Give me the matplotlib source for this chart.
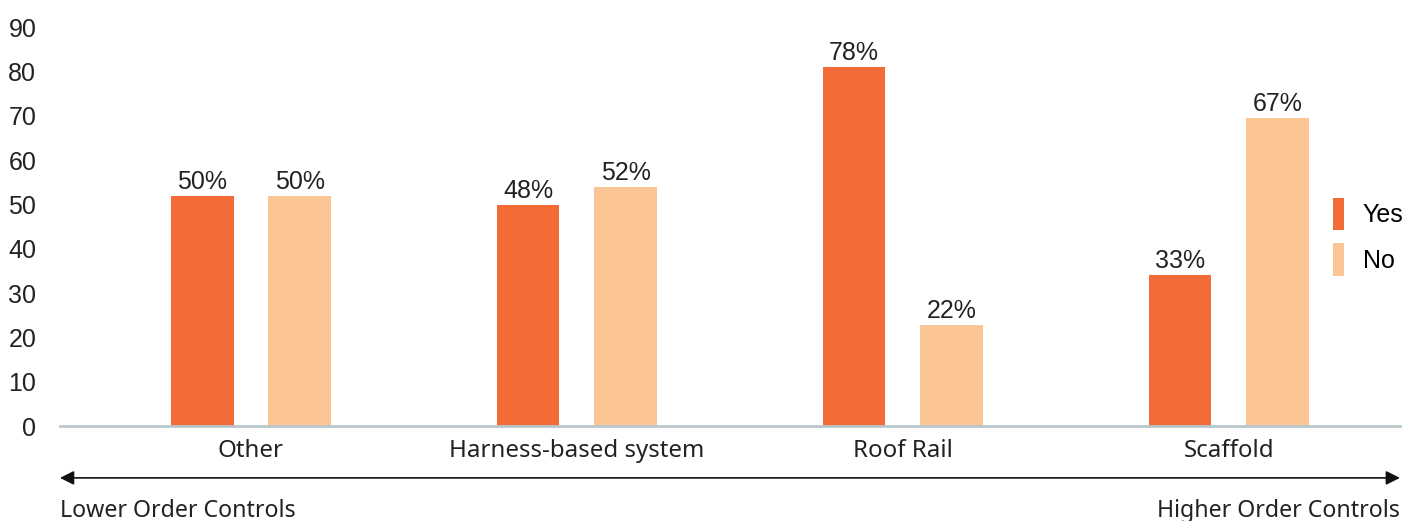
import numpy as np
import matplotlib.pyplot as plt

# 数据
categories = ['Other', 'Harness-based system', 'Roof Rail', 'Scaffold']
yes_height = [51.9, 49.9, 81.0, 34.1]
no_height = [51.9, 53.9, 22.8, 69.5]
yes_label = ['50%', '48%', '78%', '33%']
no_label = ['50%', '52%', '22%', '67%']
y_ticks = [0, 10, 20, 30, 40, 50, 60, 70, 80, 90]

yes_color = '#F36C38'
no_color = '#FAC495'
num_font = 'Liberation Sans'
cat_font = 'Noto Sans'

fig = plt.figure(figsize=(14.17, 5.21), dpi=100)
ax = fig.add_axes([0.0423, 0.1823, 0.9457, 0.7657])

x = np.arange(len(categories))
w = 0.193
off = 0.15
b1 = ax.bar(x - off, yes_height, w, color=yes_color, label='Yes')
b2 = ax.bar(x + off, no_height, w, color=no_color, label='No')

# 百分比标签
for bars, labels in [(b1, yes_label), (b2, no_label)]:
	for rect, lab in zip(bars, labels):
		ax.text(rect.get_x() + rect.get_width() / 2, rect.get_height() + 0.5, lab,
				ha='center', va='bottom', fontsize=18, family=num_font, color='#222222')

ax.set_xlim(-0.586, 3.525)
ax.set_ylim(0, 90)
ax.set_yticks(y_ticks)
ax.set_yticklabels([str(t) for t in y_ticks], family=num_font, fontsize=18, color='#222222')
ax.set_xticks(x)
ax.set_xticklabels(categories, family=cat_font, fontsize=17.3, color='#222222')
ax.tick_params(axis='y', length=0, pad=17)
ax.tick_params(axis='x', length=0, pad=9)

for s in ['top', 'right', 'left']:
	ax.spines[s].set_visible(False)
ax.spines['bottom'].set_color('#B9C7CC')
ax.spines['bottom'].set_linewidth(2)

leg = ax.legend(loc='center left', bbox_to_anchor=(0.933, 0.475), frameon=False,
				handlelength=0.45, handleheight=1.6, handletextpad=0.75,
				labelspacing=0.55, prop={'family': num_font, 'size': 18})

# 底部箭头和说明
ax.annotate('', xy=(0, -0.13), xytext=(1, -0.13), xycoords='axes fraction',
			arrowprops=dict(arrowstyle='<|-|>', color='#111111', lw=1.2,
							mutation_scale=21, shrinkA=0, shrinkB=0),
			annotation_clip=False)
ax.text(0, -0.183, 'Lower Order Controls', transform=ax.transAxes, ha='left', va='top',
		family=cat_font, fontsize=16.7, color='#222222')
ax.text(1, -0.183, 'Higher Order Controls', transform=ax.transAxes, ha='right', va='top',
		family=cat_font, fontsize=16.7, color='#222222')

plt.savefig('out.png', dpi=100)
